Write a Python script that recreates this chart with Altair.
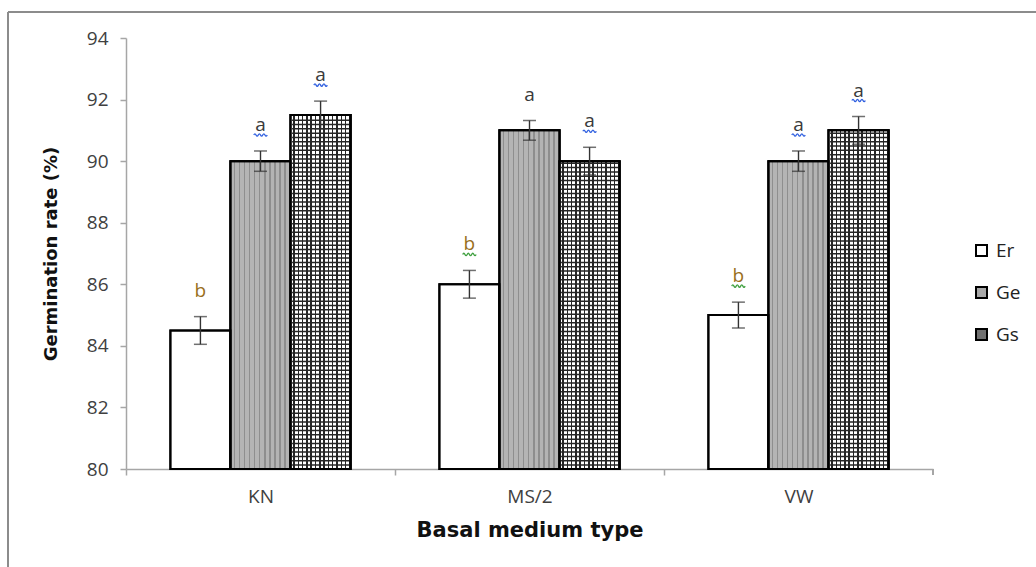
import altair as alt
import pandas as pd
import numpy as np

# ---------------- data ----------------
media = ["KN", "MS/2", "VW"]
series = ["Er", "Ge", "Gs"]
er_vals = [84.5, 86.0, 85.0]
ge_vals = [90.0, 91.0, 90.0]
gs_vals = [91.5, 90.0, 91.0]
er_err = [0.45, 0.45, 0.42]
ge_err = [0.33, 0.32, 0.33]
gs_err = [0.45, 0.45, 0.45]
er_letters = ["b", "b", "b"]
ge_letters = ["a", "a", "a"]
gs_letters = ["a", "a", "a"]
# spell-check underline visible under some letters in the original ("" = none)
er_squiggle = ["", "green", "green"]
ge_squiggle = ["blue", "", "blue"]
gs_squiggle = ["blue", "blue", "blue"]

rows = []
for s, vals, errs, lets, sq in [("Er", er_vals, er_err, er_letters, er_squiggle),
                                ("Ge", ge_vals, ge_err, ge_letters, ge_squiggle),
                                ("Gs", gs_vals, gs_err, gs_letters, gs_squiggle)]:
    for m, v, e, l, q in zip(media, vals, errs, lets, sq):
        rows.append(dict(medium=m, series=s, value=v, lo=v - e, hi=v + e, letter=l, squiggle=q))
df = pd.DataFrame(rows)

# hatch texture for the Gs bars (horizontal lines of the cross-hatch)
hatch_rows = []
for m, v in zip(media, gs_vals):
    for lvl in np.arange(80.13, v - 0.07, 0.14):
        hatch_rows.append(dict(medium=m, series="Gs", lvl=float(lvl)))
hatch = pd.DataFrame(hatch_rows)

# ---------------- layout ----------------
W, H = 807, 431
LEFT, TOP = 126, 38
STEP = W / 3.0
FONT = "Open Sans"
TXT = "#404040"
AX = "#a6a6a6"
WAVE = "M-1,0 Q-0.833,-0.35 -0.667,0 T-0.333,0 T0,0 T0.333,0 T0.667,0 T1,0"


def stripes(n, light, dark, frac):
    stops = []
    for i in range(n):
        a = i / n
        b = (i + 1 - frac) / n
        c = (i + 1) / n
        stops += [{"offset": a, "color": light}, {"offset": b, "color": light},
                  {"offset": b, "color": dark}, {"offset": c, "color": dark}]
    return {"gradient": "linear", "x1": 0, "y1": 0, "x2": 1, "y2": 0, "stops": stops}


ge_fill = stripes(12, "#b4b4b4", "#8e8e8e", 0.3)
gs_fill = stripes(14, "#ffffff", "#262626", 0.35)

x_enc = alt.X("medium:N", sort=media,
              scale=alt.Scale(domain=media, paddingInner=0.33, paddingOuter=0.165),
              axis=alt.Axis(title="Basal medium type", labelAngle=0, labelFont=FONT,
                            labelFontSize=19, labelColor=TXT, labelPadding=12,
                            tickSize=6, tickColor=AX, domainColor=AX, domainWidth=1.5,
                            tickWidth=1.5, tickOffset=-STEP / 2, labelOffset=STEP / 2,
                            titleFont="DejaVu Sans", titleFontSize=21, titleFontWeight="bold",
                            titleColor="#111", titlePadding=13))
xo_enc = alt.XOffset("series:N", scale=alt.Scale(domain=series, paddingInner=0, paddingOuter=0))
y_scale = alt.Scale(domain=[80, 94], nice=False, zero=False)
y_axis = alt.Axis(title="Germination rate (%)", values=list(range(80, 95, 2)),
                  labelFont=FONT, labelFontSize=19, labelColor=TXT, labelPadding=12,
                  tickSize=6, tickColor=AX, domainColor=AX, domainWidth=1.5, tickWidth=1.5,
                  titleFont="DejaVu Sans", titleFontSize=18, titleFontWeight="bold",
                  titleColor="#111", titleX=-66, titleY=H / 2)

base = alt.Chart(df)

bars = base.mark_bar(stroke="black", strokeWidth=2).encode(
    x=x_enc, xOffset=xo_enc,
    y=alt.Y("value:Q", scale=y_scale, axis=y_axis),
    y2=alt.datum(80),
    fill=alt.Fill("series:N", scale=alt.Scale(domain=series,
                                              range=["#ffffff", "#a8a8a8", "#707070"]),
                  legend=alt.Legend(orient="none", legendX=846, legendY=203, title=None,
                                    symbolType="square", symbolSize=121,
                                    symbolStrokeColor="black", symbolStrokeWidth=2,
                                    labelFont=FONT, labelFontSize=19, labelColor="#222",
                                    labelOffset=5, rowPadding=22)),
)

ge_bars = base.transform_filter(alt.datum.series == "Ge").mark_bar(
    fill=ge_fill, stroke="black", strokeWidth=2).encode(
    x="medium:N", xOffset="series:N", y="value:Q", y2=alt.datum(80))

gs_bars = base.transform_filter(alt.datum.series == "Gs").mark_bar(
    fill=gs_fill, stroke="black", strokeWidth=2).encode(
    x="medium:N", xOffset="series:N", y="value:Q", y2=alt.datum(80))

gs_lines = alt.Chart(hatch).mark_tick(orient="horizontal", size=57, thickness=1.5,
                                      color="#262626", opacity=1).encode(
    x="medium:N", xOffset="series:N", y="lvl:Q")

outline = base.mark_bar(fillOpacity=0, stroke="black", strokeWidth=2).encode(
    x="medium:N", xOffset="series:N", y="value:Q", y2=alt.datum(80))

err_rule = base.mark_rule(color="#333333", strokeWidth=1.4).encode(
    x="medium:N", xOffset="series:N", y="lo:Q", y2="hi:Q")

caps = base.transform_fold(["lo", "hi"], as_=["end", "yv"]).mark_tick(
    orient="horizontal", size=13, thickness=1.5, color="#333333").encode(
    x="medium:N", xOffset="series:N", y="yv:Q")

letters = base.mark_text(font=FONT, fontSize=19, baseline="middle", dy=-26).encode(
    x="medium:N", xOffset="series:N", y="hi:Q", text="letter:N",
    color=alt.Color("letter:N", scale=alt.Scale(domain=["a", "b"],
                                                range=["#3a3a3a", "#9a7020"]), legend=None))

squiggles = base.transform_filter(alt.datum.squiggle != "").mark_point(
    shape=WAVE, size=180, filled=False, strokeWidth=1.3, opacity=1).encode(
    x="medium:N", xOffset="series:N", y="hi:Q", yOffset=alt.value(-16),
    stroke=alt.Stroke("squiggle:N", scale=alt.Scale(domain=["blue", "green"],
                                                    range=["#3060e0", "#40a040"]), legend=None))

end_tick = alt.Chart(df).mark_rule(color=AX, strokeWidth=1.5).encode(
    x=alt.value(W), y=alt.value(H), y2=alt.value(H + 6))

frame_top = alt.Chart(df).mark_rule(color="#8c8c8c", strokeWidth=2).encode(
    x=alt.value(8 - LEFT), x2=alt.value(1036 - LEFT + 5), y=alt.value(12 - TOP))
frame_left = alt.Chart(df).mark_rule(color="#8c8c8c", strokeWidth=2).encode(
    x=alt.value(8 - LEFT), y=alt.value(12 - TOP), y2=alt.value(567 - TOP + 5))

chart = alt.layer(frame_top, frame_left, bars, ge_bars, gs_bars, gs_lines, outline,
                  err_rule, caps, squiggles, letters, end_tick).resolve_scale(
    color="independent").properties(
    width=W, height=H,
    autosize=alt.AutoSizeParams(type="none"),
    padding={"left": LEFT, "top": TOP, "right": 1036 - LEFT - W, "bottom": 567 - TOP - H},
    background="white",
).configure_view(stroke=None).configure_axis(grid=False)

chart.save("out.html", embed_options={"renderer": "svg", "actions": False})
